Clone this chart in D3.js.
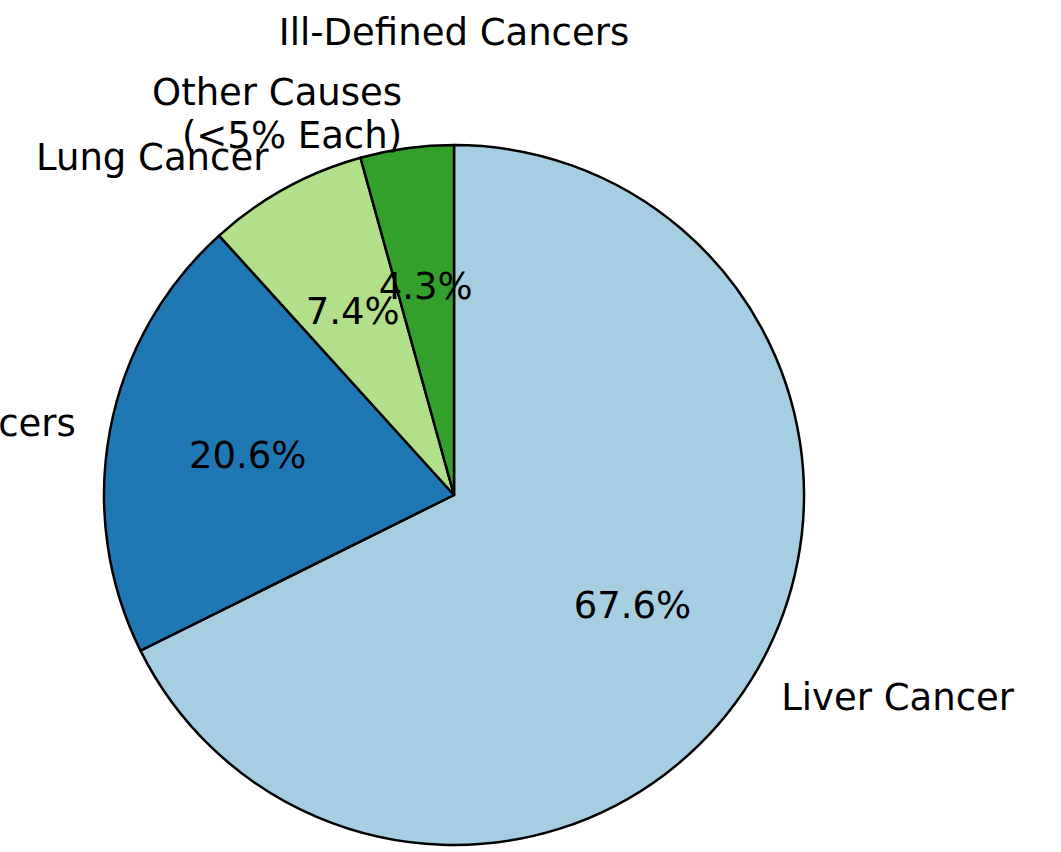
<!DOCTYPE html>
<html>
<head>
<meta charset="utf-8">
<script src="https://cdn.jsdelivr.net/npm/d3@7"></script>
<style>
  html, body { margin: 0; padding: 0; background: #fff; }
  svg { display: block; }
  text { font-family: "DejaVu Sans", sans-serif; fill: #000; }
</style>
</head>
<body>
<div id="chart"></div>
<script>
const categories = ["Liver Cancer", "Other Cancers", "Lung Cancer", "Other Causes\n(<5% Each)"];
const values = [67.6, 20.6, 7.4, 4.3];
const colors = ["#a6cee3", "#1f78b4", "#b2df8a", "#33a02c"];
const title = "Ill-Defined Cancers";

const width = 1061, height = 852;
const cx = 454, cy = 495, radius = 350;
const fontSize = 37;

const svg = d3.select("#chart")
    .append("svg")
    .attr("width", width)
    .attr("height", height);

const g = svg.append("g")
    .attr("transform", `translate(${cx},${cy})`);

const data = categories.map((c, i) => ({ name: c, value: values[i], color: colors[i] }));

const pie = d3.pie()
    .sort(null)
    .value(d => d.value)
    .startAngle(0)
    .endAngle(2 * Math.PI);

const arcs = pie(data);

const arc = d3.arc().innerRadius(0).outerRadius(radius);

g.selectAll("path.slice")
    .data(arcs)
    .enter()
    .append("path")
    .attr("class", "slice")
    .attr("d", arc)
    .attr("fill", d => d.data.color)
    .attr("stroke", "#000")
    .attr("stroke-width", 2.5)
    .attr("stroke-linejoin", "round");

const mid = d => (d.startAngle + d.endAngle) / 2;

// outer labels at 1.1 * r
const lineH = 43;
g.selectAll("text.label")
    .data(arcs)
    .enter()
    .append("text")
    .attr("class", "label")
    .attr("font-size", fontSize)
    .attr("text-anchor", d => Math.sin(mid(d)) > 0 ? "start" : "end")
    .each(function (d) {
        const x = 1.1 * radius * Math.sin(mid(d));
        const y = -1.1 * radius * Math.cos(mid(d));
        const lines = d.data.name.split("\n");
        const el = d3.select(this);
        lines.forEach((ln, i) => {
            el.append("tspan")
                .attr("x", x)
                .attr("y", y + (i - (lines.length - 1) / 2) * lineH)
                .attr("dominant-baseline", "central")
                .text(ln);
        });
    });

// percentage labels at 0.6 * r
g.selectAll("text.pct")
    .data(arcs)
    .enter()
    .append("text")
    .attr("class", "pct")
    .attr("font-size", fontSize)
    .attr("text-anchor", "middle")
    .attr("dominant-baseline", "central")
    .attr("x", d => 0.6 * radius * Math.sin(mid(d)))
    .attr("y", d => -0.6 * radius * Math.cos(mid(d)))
    .text(d => d.data.value.toFixed(1) + "%");

svg.append("text")
    .attr("x", cx)
    .attr("y", 32)
    .attr("font-size", fontSize)
    .attr("text-anchor", "middle")
    .attr("dominant-baseline", "central")
    .text(title);
</script>
</body>
</html>
